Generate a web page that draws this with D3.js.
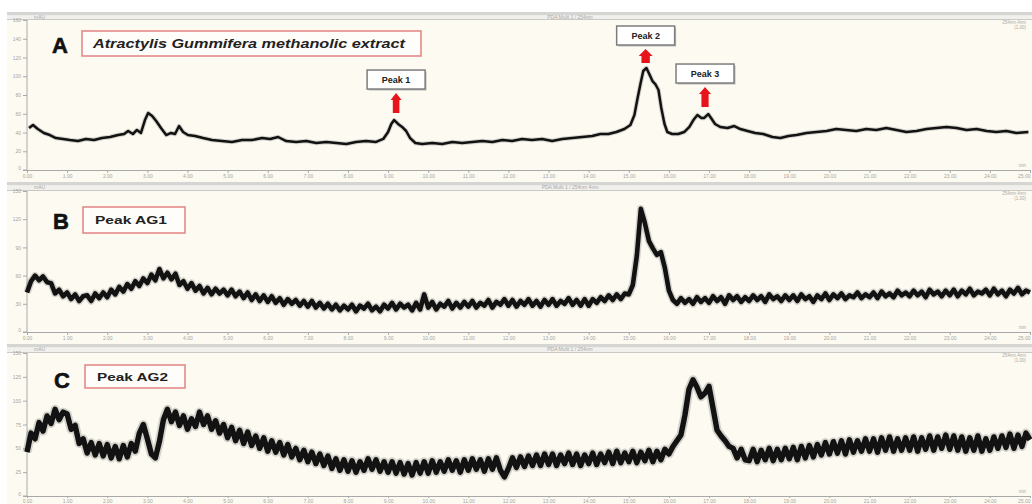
<!DOCTYPE html>
<html><head><meta charset="utf-8">
<script src="https://cdn.jsdelivr.net/npm/d3@7"></script>
<style>body{margin:0;background:#fff}svg{display:block}</style>
</head><body><svg id="c" width="1032" height="504"></svg>
<script>
// ---------------- DATA ----------------
// Panel A: retention time (min) and detector response (mAU)
const timesA = [
0.05,0.15,0.27,0.42,0.57,0.72,0.90,1.07,1.27,1.47,
1.67,1.87,2.07,2.27,2.42,2.52,2.64,2.74,2.84,2.94,
3.02,3.12,3.22,3.34,3.47,3.59,3.69,3.79,3.89,4.01,
4.19,4.39,4.61,4.86,5.11,5.36,5.61,5.86,6.06,6.26,
6.46,6.71,6.96,7.21,7.46,7.71,7.96,8.20,8.45,8.70,
8.88,9.00,9.08,9.15,9.25,9.35,9.45,9.55,9.68,9.85,
10.10,10.35,10.60,10.85,11.10,11.35,11.60,11.85,12.09,12.34,
12.59,12.84,13.09,13.34,13.59,13.84,14.09,14.29,14.49,14.69,
14.89,15.04,15.14,15.21,15.29,15.36,15.44,15.51,15.59,15.66,
15.74,15.81,15.89,15.96,16.08,16.23,16.38,16.51,16.61,16.71,
16.81,16.88,16.98,17.05,17.15,17.28,17.46,17.63,17.78,17.96,
18.15,18.35,18.58,18.78,18.98,19.18,19.43,19.68,19.93,20.17,
20.42,20.67,20.92,21.17,21.42,21.67,21.92,22.17,22.42,22.67,
22.92,23.17,23.42,23.67,23.92,24.16,24.41,24.66,24.96];
const signalA = [
44.8,48.0,43.7,39.5,37.3,34.1,33.1,32.0,30.9,33.1,
32.0,34.1,35.2,37.3,38.4,41.6,38.4,42.7,39.5,53.3,
60.8,57.6,52.3,44.8,37.3,39.5,38.4,46.9,40.5,37.3,
36.3,34.1,32.0,30.9,29.9,32.0,32.0,34.1,33.1,35.2,
30.9,29.9,30.9,28.8,29.9,28.8,27.7,29.9,30.9,29.9,
33.1,40.5,49.1,53.3,49.1,45.9,41.6,34.1,28.8,27.7,
28.8,27.7,29.9,28.8,29.9,30.9,29.9,32.0,30.9,33.1,
32.0,33.1,30.9,33.1,34.1,35.2,36.3,38.4,38.4,40.5,
43.7,48.0,58.7,74.7,91.7,105.6,108.8,102.4,94.9,91.7,
85.3,66.1,49.1,40.5,38.4,38.4,40.5,45.9,53.3,58.7,
55.5,55.5,59.7,55.5,49.1,45.9,44.8,46.9,43.7,41.6,
39.5,38.4,35.2,34.1,36.3,37.3,39.5,40.5,41.6,43.7,
42.7,41.6,43.7,42.7,44.8,42.7,40.5,41.6,43.7,44.8,
45.9,44.8,42.7,43.7,41.6,40.5,41.6,39.5,40.5];

// Panels B and C: sampled every 0.1 min
const sampleTimes = [
0,0.1,0.2,0.3,0.4,0.5,0.6,0.7,0.8,0.9,
1,1.1,1.2,1.3,1.4,1.5,1.6,1.7,1.8,1.9,
2,2.1,2.2,2.3,2.4,2.5,2.6,2.7,2.8,2.9,
3,3.1,3.2,3.3,3.4,3.5,3.6,3.7,3.8,3.9,
4,4.1,4.2,4.3,4.4,4.5,4.6,4.7,4.8,4.9,
5,5.1,5.2,5.3,5.4,5.5,5.6,5.7,5.8,5.9,
6,6.1,6.2,6.3,6.4,6.5,6.6,6.7,6.8,6.9,
7,7.1,7.2,7.3,7.4,7.5,7.6,7.7,7.8,7.9,
8,8.1,8.2,8.3,8.4,8.5,8.6,8.7,8.8,8.9,
9,9.1,9.2,9.3,9.4,9.5,9.6,9.7,9.8,9.9,
10,10.1,10.2,10.3,10.4,10.5,10.6,10.7,10.8,10.9,
11,11.1,11.2,11.3,11.4,11.5,11.6,11.7,11.8,11.9,
12,12.1,12.2,12.3,12.4,12.5,12.6,12.7,12.8,12.9,
13,13.1,13.2,13.3,13.4,13.5,13.6,13.7,13.8,13.9,
14,14.1,14.2,14.3,14.4,14.5,14.6,14.7,14.8,14.9,
15,15.1,15.2,15.3,15.4,15.5,15.6,15.7,15.8,15.9,
16,16.1,16.2,16.3,16.4,16.5,16.6,16.7,16.8,16.9,
17,17.1,17.2,17.3,17.4,17.5,17.6,17.7,17.8,17.9,
18,18.1,18.2,18.3,18.4,18.5,18.6,18.7,18.8,18.9,
19,19.1,19.2,19.3,19.4,19.5,19.6,19.7,19.8,19.9,
20,20.1,20.2,20.3,20.4,20.5,20.6,20.7,20.8,20.9,
21,21.1,21.2,21.3,21.4,21.5,21.6,21.7,21.8,21.9,
22,22.1,22.2,22.3,22.4,22.5,22.6,22.7,22.8,22.9,
23,23.1,23.2,23.3,23.4,23.5,23.6,23.7,23.8,23.9,
24,24.1,24.2,24.3,24.4,24.5,24.6,24.7,24.8,24.9,
25];
const signalB = [
42,54,60,55,59,53,52,41,45,38,
42,35,40,33,38,39,33,41,36,42,
37,45,40,48,43,51,46,54,49,57,
52,61,55,67,57,63,56,62,50,54,
46,52,44,49,41,47,40,46,41,45,
39,45,38,43,36,42,34,40,33,39,
32,38,31,36,29,35,30,34,28,33,
27,33,26,31,25,30,24,29,23,28,
24,29,22,28,25,30,23,27,22,29,
25,31,24,30,26,29,23,31,24,40,
26,32,24,30,27,33,25,31,26,32,
27,33,26,31,28,34,26,32,29,35,
28,34,27,33,29,35,28,33,27,34,
29,35,28,33,30,36,29,34,28,35,
28,35,31,37,33,39,34,40,35,41,
40,50,81,131,116,97,89,82,85,68,
44,34,30,36,31,35,30,37,32,36,
31,38,33,37,30,39,34,38,32,37,
33,39,34,38,32,40,35,38,33,39,
34,39,33,40,35,38,32,39,35,41,
34,40,36,41,35,39,37,42,36,40,
37,42,36,43,38,41,37,44,39,42,
38,44,39,43,37,45,40,43,38,44,
39,45,38,44,40,46,39,43,41,45,
39,46,40,44,38,45,41,47,40,44,
42];
const signalC = [
46,66,60,77,68,84,76,91,80,88,
86,70,74,55,60,45,56,43,55,42,
54,40,52,39,53,41,55,47,66,75,
60,44,40,57,80,91,78,88,74,84,
70,81,73,88,75,84,70,79,66,75,
61,72,58,69,55,67,53,63,50,61,
47,58,46,56,43,54,41,50,38,48,
36,46,34,44,32,42,29,39,27,38,
26,37,25,36,27,39,28,38,26,36,
25,36,24,35,23,34,22,35,24,36,
24,37,25,36,26,38,27,37,25,38,
27,39,28,38,26,39,28,40,27,20,
29,40,30,41,31,42,32,43,32,44,
33,44,32,43,34,45,33,44,32,43,
34,45,33,44,35,46,34,47,35,45,
36,47,35,46,37,48,36,47,38,49,
44,52,58,64,85,112,122,114,104,108,
115,92,69,63,58,52,50,40,49,38,
37,49,36,48,38,50,37,49,38,50,
39,51,38,52,40,53,41,54,43,56,
44,57,45,58,44,59,46,58,47,60,
47,60,46,61,48,62,47,60,48,61,
48,62,47,61,49,63,48,62,50,64,
49,63,48,62,47,61,48,63,47,60,
48,62,50,63,51,65,50,64,52,66,
59];

const xTicks = [0,1,2,3,4,5,6,7,8,9,10,11,12,13,14,15,16,17,18,19,20,21,22,23,24,25];
const yTicksA = [0,20,40,60,80,100,120,140,160];
const yTicksB = [0,30,60,90,120,150];
const yTicksC = [0,25,50,75,100,125,150];
const panelLetters = ["A","B","C"];
const panelTitles = ["Atractylis Gummifera methanolic extract","Peak AG1","Peak AG2"];
const headerTitles = ["PDA Multi 1 / 254nm","PDA Multi 1 / 254nm 4nm","PDA Multi 1 / 254nm"];
const peakNames = ["Peak 1","Peak 2","Peak 3"];
const peakTimes = [9.2, 15.42, 16.9];

// ---------------- DRAW ----------------
const W = 1032, H = 504;
const svg = d3.select("#c");
svg.append("rect").attr("width", W).attr("height", H).attr("fill", "#ffffff");

const FONT = "'Liberation Sans', Arial, sans-serif";
const panels = [
  {i:0, times:timesA, values:signalA, yMax:160, yTicks:yTicksA, top:12, plotTop:20, plotBottom:170, bottom:182,
   box:[82,31,339,25], letter:[52,53], titleX:[93,312], titleY:48, titleSize:13.5, italic:true, band:2.5, halo:4.5, tick:3},
  {i:1, times:sampleTimes, values:signalB, yMax:150, yTicks:yTicksB, top:182, plotTop:191, plotBottom:332, bottom:344,
   box:[83,207,102,26], letter:[53,229], titleX:[95,72], titleY:224, titleSize:10, italic:false, band:4.6, halo:7.5, tick:3},
  {i:2, times:sampleTimes, values:signalC, yMax:150, yTicks:yTicksC, top:344, plotTop:353, plotBottom:496, bottom:504,
   box:[85,365,100,23], letter:[54,388], titleX:[97,71], titleY:381, titleSize:10, italic:false, band:5.4, halo:9, tick:2}
];
const left = 27, right = 1030;

panels.forEach(p => {
  const g = svg.append("g");
  g.append("rect").attr("x", 7).attr("y", p.top).attr("width", W - 7).attr("height", p.bottom - p.top).attr("fill", "#fdfbf1");
  g.append("rect").attr("x", 7).attr("y", p.top).attr("width", W - 7).attr("height", 3.5).attr("fill", "#d5d5d3");
  g.append("rect").attr("x", 7).attr("y", p.top + 3.5).attr("width", W - 7).attr("height", p.plotTop - p.top - 4).attr("fill", "#f1f0ec");
  g.append("line").attr("x1", 7).attr("x2", W).attr("y1", p.plotTop - 0.5).attr("y2", p.plotTop - 0.5).attr("stroke", "#c9c9c6");
  g.append("text").attr("x", 570).attr("y", p.top + 6.5).attr("text-anchor", "middle")
    .attr("font-family", FONT).attr("font-size", 5).attr("fill", "#a8a8a8").text(headerTitles[p.i]);
  g.append("text").attr("x", 34).attr("y", p.top + 6.5)
    .attr("font-family", FONT).attr("font-size", 5).attr("fill", "#a8a8a8").text("mAU");
  g.append("text").attr("x", 1026).attr("y", p.plotTop + 4).attr("text-anchor", "end")
    .attr("font-family", FONT).attr("font-size", 4.5).attr("fill", "#a8a8a8").text("254nm,4nm");
  g.append("text").attr("x", 1026).attr("y", p.plotTop + 9).attr("text-anchor", "end")
    .attr("font-family", FONT).attr("font-size", 4.5).attr("fill", "#a8a8a8").text("(1.00)");

  const x = d3.scaleLinear().domain([0, 25]).range([left, right]);
  const y = d3.scaleLinear().domain([0, p.yMax]).range([p.plotBottom, p.plotTop]);

  const ax = g.append("g").attr("transform", `translate(0,${p.plotBottom})`)
    .call(d3.axisBottom(x).tickValues(xTicks).tickSize(p.tick).tickPadding(1.5).tickFormat(d3.format(".2f")));
  const ay = g.append("g").attr("transform", `translate(${left},0)`)
    .call(d3.axisLeft(y).tickValues(p.yTicks).tickSize(4).tickPadding(2).tickFormat(d3.format("d")));
  [ax, ay].forEach(a => {
    a.select(".domain").attr("stroke", "#a9a9a9");
    a.selectAll(".tick line").attr("stroke", "#a9a9a9");
    a.selectAll(".tick text").attr("fill", "#a3a3a3").attr("font-size", 5).attr("font-family", FONT);
  });
  ax.selectAll(".tick text").filter(d => d === 25).attr("text-anchor", "end");
  ay.selectAll(".tick text").filter(d => d === 0).attr("dy", "-0.1em");
  ay.select(".domain").attr("d", `M-4,${p.plotBottom}H0V${p.plotTop}`);
  g.append("text").attr("x", 1026).attr("y", p.plotBottom - 3).attr("text-anchor", "end")
    .attr("font-family", FONT).attr("font-size", 4.5).attr("fill", "#a8a8a8").text("min");

  const pts = p.times.map((t, k) => [t, p.values[k]]);
  const line = d3.line().x(d => x(d[0])).y(d => y(d[1]));
  g.append("path").attr("d", line(pts)).attr("fill", "none").attr("stroke", "#444")
    .attr("stroke-opacity", 0.22).attr("stroke-width", p.halo).attr("stroke-linejoin", "round");
  g.append("path").attr("d", line(pts)).attr("fill", "none").attr("stroke", "#121212")
    .attr("stroke-width", p.band).attr("stroke-linejoin", "round");

  g.append("text").attr("x", p.letter[0]).attr("y", p.letter[1])
    .attr("font-family", FONT).attr("font-weight", "bold").attr("font-size", 22)
    .attr("fill", "#111").attr("stroke", "#111").attr("stroke-width", 0.6).text(panelLetters[p.i]);
  g.append("rect").attr("x", p.box[0]).attr("y", p.box[1]).attr("width", p.box[2]).attr("height", p.box[3])
    .attr("fill", "#fffdf9").attr("stroke", "#e48a8a").attr("stroke-width", 1.6);
  g.append("text").attr("x", p.titleX[0]).attr("y", p.titleY)
    .attr("font-family", FONT).attr("font-weight", "bold").attr("font-style", p.italic ? "italic" : "normal")
    .attr("font-size", p.titleSize).attr("fill", "#222")
    .attr("textLength", p.titleX[1]).attr("lengthAdjust", "spacingAndGlyphs").text(panelTitles[p.i]);

  if (p.i === 0) {
    const arrowLen = [20, 14, 20], gap = [7, 5, 7], headW = [11, 14, 12];
    peakNames.forEach((name, j) => {
      const t = peakTimes[j];
      const apex = d3.max(pts.filter(d => Math.abs(d[0] - t) <= 0.3), d => d[1]);
      const cx = x(t);
      const yb = y(apex) - gap[j];
      const yt = yb - arrowLen[j];
      const hw = headW[j] / 2, sw = headW[j] * 0.3, hh = 7;
      g.append("path")
        .attr("d", `M${cx},${yt}L${cx + hw},${yt + hh}L${cx + sw},${yt + hh}L${cx + sw},${yb}L${cx - sw},${yb}L${cx - sw},${yt + hh}L${cx - hw},${yt + hh}Z`)
        .attr("fill", "#e8141b");
      const bw = 58, bh = 19, bY = yt - 4 - bh;
      g.append("rect").attr("x", cx - bw / 2 + 1.5).attr("y", bY + 1.5).attr("width", bw).attr("height", bh).attr("fill", "#bdbdbd");
      g.append("rect").attr("x", cx - bw / 2).attr("y", bY).attr("width", bw).attr("height", bh)
        .attr("fill", "#ffffff").attr("stroke", "#7d7d7d").attr("stroke-width", 1.5);
      g.append("text").attr("x", cx).attr("y", bY + 13).attr("text-anchor", "middle")
        .attr("font-family", FONT).attr("font-weight", "bold").attr("font-size", 9).attr("fill", "#222").text(name);
    });
  }
});
</script>
</body></html>
